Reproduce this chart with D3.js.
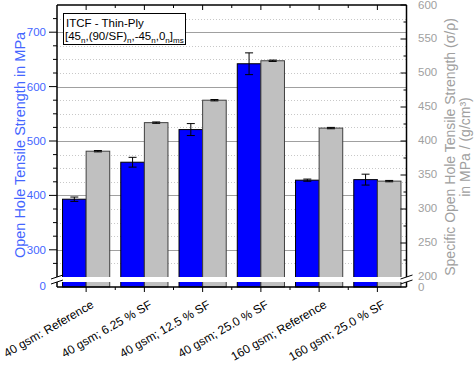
<!DOCTYPE html>
<html>
<head>
<meta charset="utf-8">
<script src="https://cdn.jsdelivr.net/npm/d3@7"></script>
<style>
  body { margin: 0; background: #fff; }
  svg { display: block; font-family: "Liberation Sans", Arial, sans-serif; }
</style>
</head>
<body>
<div id="chart"></div>
<script>
// chart data
var categories = ['40 gsm: Reference', '40 gsm; 6.25 % SF', '40 gsm; 12.5 % SF',
                  '40 gsm; 25.0 % SF', '160 gsm; Reference', '160 gsm; 25.0 % SF'];
var strength = [393, 461, 521, 642, 428, 429];        // MPa, left axis
var strengthErr = [4, 9, 11, 20, 2, 10];
var specific = [385, 427, 460, 518, 419, 341];        // MPa/(g/cm3), right axis
var specificErr = [1, 1, 1, 1, 1, 1];
var leftTicks = [300, 400, 500, 600, 700];
var rightTicks = [200, 250, 300, 350, 400, 450, 500, 550, 600];

var W = 474, H = 369;
// note: "top" is taken by window.top, so plot bounds get a prefix
var pL = 57, pR = 406.5, pT = 5, pB = 287;
var breakTop = 277, breakBot = 282;
var blueText = '#4466ff', grayText = '#a0a0a0';

var svg = d3.select('#chart').append('svg').attr('width', W).attr('height', H);

var x = d3.scaleBand().domain(categories).range([pL, pR]);
var yL = d3.scaleLinear().domain([250, 750]).range([breakTop, pT]);
var yR = d3.scaleLinear().domain([200, 600]).range([breakTop, pT]);
var yLow = d3.scaleLinear().domain([0, 10]).range([pB, breakBot]); // segment below the break
var bw = 23.6;

// grid (left axis)
var minor = d3.range(275, 750, 25).filter(function(v) { return v % 100 !== 0; });
svg.append('g').selectAll('line').data(minor).enter().append('line')
    .attr('x1', pL).attr('x2', pR)
    .attr('y1', function(d) { return Math.round(yL(d)) + 0.5; })
    .attr('y2', function(d) { return Math.round(yL(d)) + 0.5; })
    .attr('stroke', '#c8c8c8').attr('stroke-dasharray', '1,2');
svg.append('g').selectAll('line').data(leftTicks).enter().append('line')
    .attr('x1', pL).attr('x2', pR)
    .attr('y1', function(d) { return Math.round(yL(d)) + 0.5; })
    .attr('y2', function(d) { return Math.round(yL(d)) + 0.5; })
    .attr('stroke', '#a0a0a0');

// bars
svg.append('g').selectAll('rect').data(strength).enter().append('rect')
    .attr('x', function(d, i) { return x(categories[i]) + x.step() / 2 - bw; })
    .attr('y', function(d) { return yL(d); })
    .attr('width', bw)
    .attr('height', function(d) { return yLow(0) - yL(d); })
    .attr('fill', '#0000ff').attr('stroke', '#000').attr('stroke-width', 1);
svg.append('g').selectAll('rect').data(specific).enter().append('rect')
    .attr('x', function(d, i) { return x(categories[i]) + x.step() / 2; })
    .attr('y', function(d) { return yR(d); })
    .attr('width', bw)
    .attr('height', function(d) { return yLow(0) - yR(d); })
    .attr('fill', '#c0c0c0').attr('stroke', '#404040').attr('stroke-width', 1);

// error bars
function errorBars(vals, errs, scale, dx) {
  var g = svg.append('g').attr('stroke', '#000').attr('stroke-width', 1);
  vals.forEach(function(v, i) {
    var cx = x(categories[i]) + x.step() / 2 + dx;
    var y1 = scale(v - errs[i]), y2 = scale(v + errs[i]);
    g.append('line').attr('x1', cx).attr('x2', cx).attr('y1', y1).attr('y2', y2);
    g.append('line').attr('x1', cx - 4).attr('x2', cx + 4).attr('y1', y1).attr('y2', y1);
    g.append('line').attr('x1', cx - 4).attr('x2', cx + 4).attr('y1', y2).attr('y2', y2);
  });
}
errorBars(strength, strengthErr, yL, -bw / 2);
errorBars(specific, specificErr, yR, bw / 2);

// axis break band
svg.append('rect').attr('x', pL - 1).attr('y', breakTop).attr('width', pR - pL + 2)
    .attr('height', breakBot - breakTop).attr('fill', '#fff');

// frame
var frame = svg.append('g').attr('stroke', '#000').attr('stroke-width', 1.5).attr('fill', 'none');
frame.append('line').attr('x1', pL).attr('x2', pR).attr('y1', pB).attr('y2', pB);
frame.append('line').attr('x1', pL).attr('x2', pR).attr('y1', pT).attr('y2', pT);
frame.append('line').attr('x1', pL).attr('x2', pL).attr('y1', pT).attr('y2', breakTop);
frame.append('line').attr('x1', pL).attr('x2', pL).attr('y1', breakBot).attr('y2', pB);
frame.append('line').attr('x1', pR).attr('x2', pR).attr('y1', pT).attr('y2', breakTop);
frame.append('line').attr('x1', pR).attr('x2', pR).attr('y1', breakBot).attr('y2', pB);

// x ticks (bottom outward, top inward)
var tk = svg.append('g').attr('stroke', '#000').attr('stroke-width', 1);
categories.forEach(function(c) {
  var cx = x(c) + x.step() / 2, mx = x(c);
  tk.append('line').attr('x1', cx).attr('x2', cx).attr('y1', pB).attr('y2', pB + 5);
  tk.append('line').attr('x1', cx).attr('x2', cx).attr('y1', pT).attr('y2', pT + 5);
  if (mx > pL) {
    tk.append('line').attr('x1', mx).attr('x2', mx).attr('y1', pB).attr('y2', pB + 3);
    tk.append('line').attr('x1', mx).attr('x2', mx).attr('y1', pT).attr('y2', pT + 3);
  }
});

// left ticks (outward)
leftTicks.forEach(function(v) {
  tk.append('line').attr('x1', pL - 8).attr('x2', pL).attr('y1', yL(v)).attr('y2', yL(v));
});
minor.forEach(function(v) {
  tk.append('line').attr('x1', pL - 4).attr('x2', pL).attr('y1', yL(v)).attr('y2', yL(v));
});
// right ticks (inward)
rightTicks.forEach(function(v, i) {
  if (i === 0) return;
  tk.append('line').attr('x1', pR - 6).attr('x2', pR).attr('y1', yR(v)).attr('y2', yR(v));
});
d3.range(225, 600, 50).forEach(function(v) {
  tk.append('line').attr('x1', pR - 3).attr('x2', pR).attr('y1', yR(v)).attr('y2', yR(v));
});

// break marks
[pL, pR].forEach(function(bx) {
  [breakTop, breakBot].forEach(function(by) {
    tk.append('line').attr('x1', bx - 6).attr('x2', bx + 6)
        .attr('y1', by + 2).attr('y2', by - 2);
  });
});

// tick labels
var tl = svg.append('g').attr('font-size', 11.5);
leftTicks.forEach(function(v) {
  tl.append('text').attr('x', 46).attr('y', yL(v)).attr('dy', '0.35em')
      .attr('text-anchor', 'end').attr('fill', blueText).text(v);
});
tl.append('text').attr('x', 46).attr('y', yLow(0) - 1).attr('dy', '0.35em')
    .attr('text-anchor', 'end').attr('fill', blueText).text('0');
rightTicks.forEach(function(v) {
  tl.append('text').attr('x', 418).attr('y', Math.max(yR(v) - 1, 5)).attr('dy', '0.35em')
      .attr('fill', grayText).text(v);
});
tl.append('text').attr('x', 418).attr('y', yLow(0)).attr('dy', '0.35em')
    .attr('fill', grayText).text('0');

// category labels
svg.append('g').attr('font-size', 12).selectAll('text').data(categories).enter().append('text')
    .attr('transform', function(d) {
      return 'translate(' + (x(d) + x.step() / 2 + 8.5) + ',307) rotate(-30)';
    })
    .attr('text-anchor', 'end').attr('fill', '#000').text(function(d) { return d; });

// axis titles
svg.append('text').attr('transform', 'translate(25,145) rotate(-90)')
    .attr('text-anchor', 'middle').attr('font-size', 14.5).attr('fill', blueText)
    .text('Open Hole Tensile Strength in MPa');
svg.append('text').attr('transform', 'translate(455,147) rotate(-90)')
    .attr('text-anchor', 'middle').attr('font-size', 14).attr('fill', grayText)
    .text('Specific Open Hole Tensile Strength (\u03c3/\u03c1)');
svg.append('text').attr('transform', 'translate(470,147) rotate(-90)')
    .attr('text-anchor', 'middle').attr('font-size', 14).attr('fill', grayText)
    .text('in MPa / (g/cm\u00b3)');

// legend box
var lg = svg.append('g');
lg.append('rect').attr('x', 63.5).attr('y', 13.5).attr('width', 122).attr('height', 31)
    .attr('fill', '#fff').attr('stroke', '#000').attr('stroke-width', 1);
lg.append('text').attr('x', 66).attr('y', 27).attr('font-size', 11.5).text('ITCF - Thin-Ply');
var t2 = lg.append('text').attr('x', 65).attr('y', 40).attr('font-size', 11.5);
var parts = [['[45', 0], ['n', 1], [',(90/SF)', 0], ['n', 1], [',-45', 0], ['n', 1],
             [',0', 0], ['n', 1], [']', 0], ['ms', 1]];
parts.forEach(function(p, i) {
  t2.append('tspan').attr('font-size', p[1] ? 8 : 11.5)
      .attr('dy', p[1] ? 3 : (i > 0 ? -3 : 0))
      .text(p[0]);
});
</script>
</body>
</html>
